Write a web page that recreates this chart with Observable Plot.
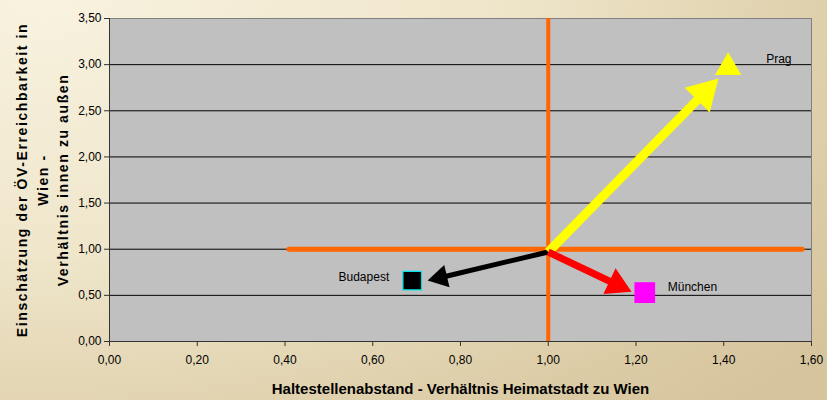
<!DOCTYPE html>
<html>
<head>
<meta charset="utf-8">
<script src="https://cdn.jsdelivr.net/npm/d3@7"></script>
<script src="https://cdn.jsdelivr.net/npm/@observablehq/plot@0.6"></script>
<style>
  html, body { margin: 0; padding: 0; }
  #chart {
    width: 827px; height: 400px; overflow: hidden;
    background: radial-gradient(ellipse 120% 140% at 5% 0%, #f8f2df 0%, #efe6cb 45%, #dccca6 85%, #d6c49c 100%);
    font-family: "Liberation Sans", Arial, sans-serif;
  }
</style>
</head>
<body>
<div id="chart"></div>
<script>
// ---- data ----
const cities = ["Prag", "Budapest", "München"];
const cityX = [1.41, 0.69, 1.22];
const cityY = [2.97, 0.66, 0.53];
const markerSymbol = ["triangle", "square", "square"];
const markerFill = ["#ffff00", "#000000", "#ff00ff"];
const markerStroke = ["#ffff00", "#00e5e5", "#ff00ff"];
const markerR = [9, 10.5, 11];

// arrows start at a common origin and end at a tip near each city
const originX = 1.0;
const originY = 0.97;
const arrowTipX = [1.388, 0.725, 1.19];
const arrowTipY = [2.85, 0.66, 0.54];
const arrowColor = ["#ffff00", "#000000", "#ff0000"];
const arrowWidth = [9, 5, 7];
const arrowHeadR = [13, 8.5, 10.5];

// orange reference lines
const refX = 1.0;
const refY = 1.0;
const refYFrom = 0.41;
const refYTo = 1.58;

const xTicks = [0, 0.2, 0.4, 0.6, 0.8, 1.0, 1.2, 1.4, 1.6];
const yTicks = [0, 0.5, 1.0, 1.5, 2.0, 2.5, 3.0, 3.5];
const xDomain = [0, 1.6];
const yDomain = [0, 3.5];

const xTitle = "Haltestellenabstand - Verhältnis Heimatstadt zu Wien";
const yTitle = "Einschätzung der ÖV-Erreichbarkeit in\nWien -\nVerhältnis innen zu außen";

// ---- layout ----
const W = 827, H = 400;
const mL = 109, mR = 16, mT = 18, mB = 59;
const kx = (W - mL - mR) / (xDomain[1] - xDomain[0]);
const ky = (H - mT - mB) / (yDomain[1] - yDomain[0]);

const fmt = d => d.toFixed(2).replace(".", ",");

const arrows = cities.map((c, i) => {
  const dx = kx * (arrowTipX[i] - originX);
  const dy = -ky * (arrowTipY[i] - originY);
  const L = Math.hypot(dx, dy);
  const ux = dx / L, uy = dy / L;
  const h = 2.333 * arrowHeadR[i];
  return {
    city: c,
    x1: originX, y1: originY,
    x2: arrowTipX[i] - ux * h * 0.85 / kx,
    y2: arrowTipY[i] + uy * h * 0.85 / ky,
    cx: arrowTipX[i] - ux * (2 * h / 3) / kx,
    cy: arrowTipY[i] + uy * (2 * h / 3) / ky,
    rot: Math.atan2(ux, -uy) * 180 / Math.PI,
    color: arrowColor[i], w: arrowWidth[i], r: arrowHeadR[i]
  };
});
const order = [1, 0, 2]; // Budapest, Prag, München draw order
const pts = cities.map((c, i) => ({
  city: c, x: cityX[i], y: cityY[i], symbol: markerSymbol[i],
  fill: markerFill[i], stroke: markerStroke[i], r: markerR[i]
}));

const marks = [
  Plot.frame({fill: "#c0c0c0", stroke: "none"}),
  Plot.ruleY(yTicks.filter(d => d > 0 && d < 3.5), {stroke: "#000", strokeWidth: 1}),
  Plot.frame({stroke: "#808080", strokeWidth: 1}),
  Plot.ruleY([0], {stroke: "#333", strokeWidth: 1}),
  Plot.ruleX([0], {stroke: "#333", strokeWidth: 1}),
  Plot.ruleY([refY], {x1: refYFrom, x2: refYTo, stroke: "#ff6600", strokeWidth: 5, strokeLinecap: "round"}),
  Plot.ruleX([refX], {y1: yDomain[0], y2: yDomain[1], stroke: "#ff6600", strokeWidth: 4})
];
for (const i of order) {
  const a = arrows[i];
  marks.push(Plot.link([a], {x1: "x1", y1: "y1", x2: "x2", y2: "y2", stroke: a.color, strokeWidth: a.w, strokeLinecap: "butt"}));
  marks.push(Plot.dot([a], {x: "cx", y: "cy", symbol: "triangle", r: a.r, fill: a.color, stroke: "none", rotate: "rot"}));
}
for (const p of pts) {
  marks.push(Plot.dot([p], {x: "x", y: "y", symbol: p.symbol, r: p.r, fill: p.fill, stroke: p.stroke, strokeWidth: 1.2}));
}
marks.push(
  Plot.text([pts[0]], {x: "x", y: "y", text: "city", dx: 38, dy: -8, textAnchor: "start", fontSize: 12, fill: "#000"}),
  Plot.text([pts[1]], {x: "x", y: "y", text: "city", dx: -23, dy: -3, textAnchor: "end", fontSize: 12, fill: "#000"}),
  Plot.text([pts[2]], {x: "x", y: "y", text: "city", dx: 23, dy: -5, textAnchor: "start", fontSize: 12, fill: "#000"}),
  Plot.axisX({ticks: xTicks, tickFormat: fmt, tickSize: 5, tickPadding: 9, fontSize: 12, stroke: "#333", color: "#000", label: null}),
  Plot.axisY({ticks: yTicks, tickFormat: fmt, tickSize: 5, tickPadding: 3, fontSize: 12, stroke: "#333", label: null}),
  Plot.text([xTitle], {frameAnchor: "bottom", dy: 52, fontSize: 15, fontWeight: "bold", fill: "#000", text: d => d}),
  Plot.text([yTitle], {frameAnchor: "left", dx: -68.5, rotate: -90, lineHeight: 1.45, fontSize: 14, fontWeight: "bold", fill: "#000", text: d => d, textAnchor: "middle", lineAnchor: "middle", ariaLabel: "y-title"})
);

const chart = Plot.plot({
  width: W, height: H,
  marginLeft: mL, marginRight: mR, marginTop: mT, marginBottom: mB,
  x: {domain: xDomain},
  y: {domain: yDomain},
  style: {background: "transparent", fontFamily: "'Liberation Sans', Arial, sans-serif", fontSize: "12px", overflow: "visible"},
  marks
});
// widen letter spacing of the rotated y-axis title, as in the reference
d3.select(chart).selectAll("text")
  .filter(function() { return this.textContent.startsWith("Einschätzung"); })
  .attr("letter-spacing", "1.6px");
document.getElementById("chart").appendChild(chart);
</script>
</body>
</html>
